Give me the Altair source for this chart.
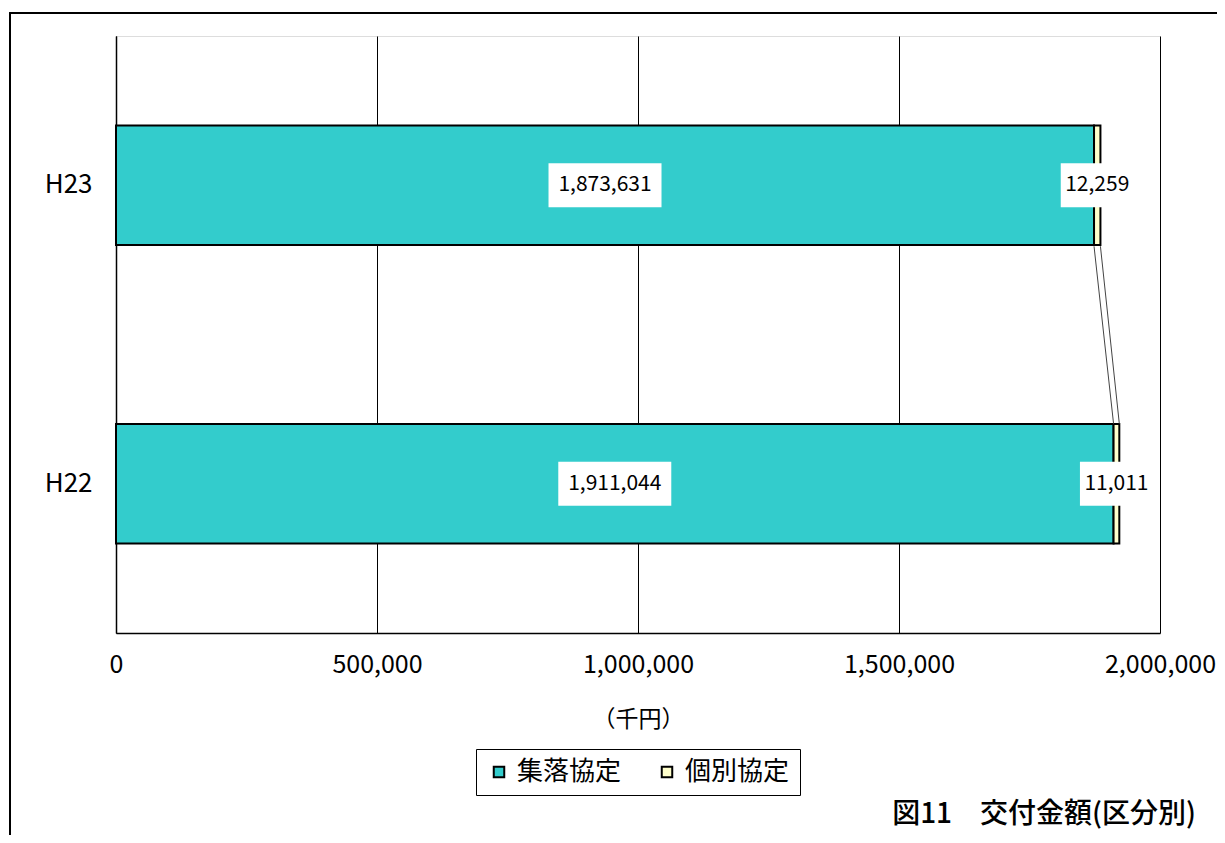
import altair as alt
import pandas as pd

years = ["H23", "H22"]
series = ["集落協定", "個別協定"]
shuraku = [1873631, 1911044]
kobetsu = [12259, 11011]
colors = ["#33CCCC", "#FFFFCC"]
x_ticks = [0, 500000, 1000000, 1500000, 2000000]
caption = ["図11　交付金額(区分別)"]

FONT = "Noto Sans CJK JP"
W, H = 1044, 597

rows = []
for i, y in enumerate(years):
    a, b = shuraku[i], kobetsu[i]
    rows.append({"year": y, "series": series[0], "value": a, "start": 0, "end": a,
                 "mid": a / 2, "label": f"{a:,}", "ord": 0})
    rows.append({"year": y, "series": series[1], "value": b, "start": a, "end": a + b,
                 "mid": a + b / 2, "label": f"{b:,}", "ord": 1})
df = pd.DataFrame(rows)

conn = pd.DataFrame({
    "y1": [years[0], years[0]], "y2": [years[1], years[1]],
    "x1": [shuraku[0], shuraku[0] + kobetsu[0]],
    "x2": [shuraku[1], shuraku[1] + kobetsu[1]],
})

xscale = alt.Scale(domain=[0, 2000000], nice=False)
yscale = alt.Scale(domain=years, paddingInner=0.6, paddingOuter=0.3)

xenc = alt.X("start:Q", scale=xscale, axis=alt.Axis(
    values=x_ticks, format=",d", title="（千円）", titleFont=FONT, titleFontSize=23,
    titleFontWeight="normal", titlePadding=31, labelFont=FONT, labelFontSize=25,
    labelColor="#000", labelPadding=19, ticks=False, domainColor="#000",
    domainWidth=1.5, grid=True, gridColor="#000", gridWidth=1, labelFlush=False))
yenc = alt.Y("year:N", scale=yscale, sort=years, axis=alt.Axis(
    title=None, labelFont=FONT, labelFontSize=26, labelColor="#000", labelPadding=24,
    ticks=False, domainColor="#000", domainWidth=1.5))

bars = alt.Chart(df).mark_bar(stroke="#000", strokeWidth=2).encode(
    x=xenc, x2="end:Q", y=yenc,
    color=alt.Color("series:N", scale=alt.Scale(domain=series, range=colors),
                    legend=alt.Legend(title=None, orient="none", legendX=360, legendY=713,
                                      direction="horizontal", strokeColor="#000",
                                      padding=10, labelFont=FONT, labelFontSize=26,
                                      labelColor="#000", symbolType="square", symbolSize=110,
                                      symbolStrokeColor="#000", symbolStrokeWidth=2,
                                      columnPadding=32, labelOffset=5)),
)

connector = alt.Chart(conn).mark_rule(color="#444", strokeWidth=1, yOffset=61, y2Offset=-60).encode(
    x=alt.X("x1:Q", scale=xscale), x2="x2:Q",
    y=alt.Y("y1:N", scale=yscale, sort=years), y2="y2:N",
)

big = df[df["ord"] == 0]
small = df[df["ord"] == 1]

box_big = alt.Chart(big).mark_point(
    shape="M-1,-0.39H1V0.39H-1Z", size=113 * 113, filled=True, fill="white", opacity=1,
    strokeWidth=0).encode(x=alt.X("mid:Q", scale=xscale), y=alt.Y("year:N", scale=yscale, sort=years))
box_small = alt.Chart(small).mark_point(
    shape="M-1,-0.6H1V0.6H-1Z", size=73 * 73, filled=True, fill="white", opacity=1,
    strokeWidth=0).encode(x=alt.X("mid:Q", scale=xscale), y=alt.Y("year:N", scale=yscale, sort=years))
text = alt.Chart(df).mark_text(font=FONT, fontSize=21, color="#000").encode(
    x=alt.X("mid:Q", scale=xscale), y=alt.Y("year:N", scale=yscale, sort=years), text="label:N")

frame = alt.Chart(df).mark_rect(fill=None, stroke="#000", strokeWidth=1.5, clip=False).encode(
    x=alt.value(-106), x2=alt.value(W + 62), y=alt.value(-23), y2=alt.value(H + 230))

cap = alt.Chart(pd.DataFrame({"t": caption})).mark_text(
    font=FONT, fontSize=28, fontWeight=500, color="#000", align="right", baseline="middle",
    clip=False).encode(text="t:N", x=alt.value(W + 36), y=alt.value(H + 182))

chart = alt.layer(frame, bars, connector, box_big, box_small, text, cap).properties(
    width=W, height=H,
    autosize=alt.AutoSizeParams(type="none"),
    padding={"left": 108, "top": 28, "right": 57, "bottom": 202},
).configure_view(stroke="#888", strokeWidth=1.5).configure(background="white")

chart.save("out.html", embed_options={"renderer": "svg", "actions": False})
